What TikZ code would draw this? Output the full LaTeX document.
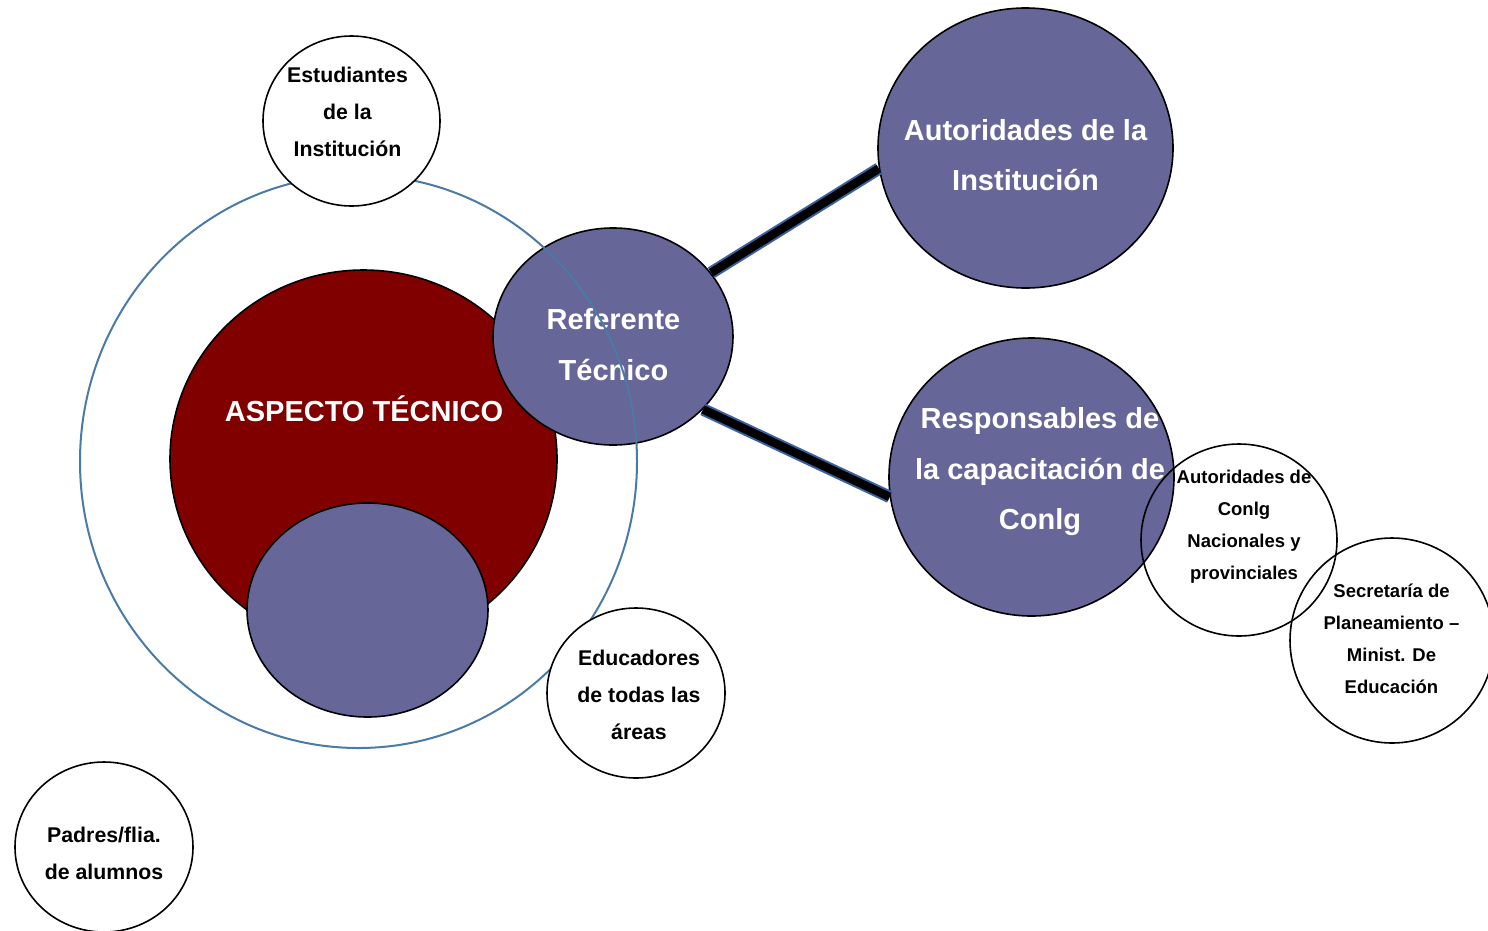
\documentclass[tikz,border=0pt]{standalone}
\usepackage{fontspec}
\setmainfont{Liberation Sans}
\usetikzlibrary{shapes.geometric}
\definecolor{lav}{HTML}{666699}
\definecolor{maroon}{HTML}{800000}
\definecolor{ringblue}{HTML}{4A7AA6}
\definecolor{linkblue}{HTML}{3A62A0}
\tikzset{
  circ/.style={ellipse, inner sep=0pt, line width=1.6pt},
  white circ/.style={circ, draw=black, fill=white},
  lav circ/.style={circ, draw=black, fill=lav},
  open circ/.style={circ, draw=black},
  big txt/.style={text=white, font=\bfseries\fontsize{29}{50.5}\selectfont, align=center, inner sep=0pt},
  mid txt/.style={text=black, font=\bfseries\fontsize{21.3}{37}\selectfont, align=center, inner sep=0pt},
  small txt/.style={text=black, font=\bfseries\fontsize{18.5}{32}\selectfont, align=center, inner sep=0pt},
  link/.style={line width=12.5pt, draw=linkblue, postaction={draw=black, line width=8.5pt}}
}
\begin{document}
\begin{tikzpicture}[x=1pt, y=-1pt]
\useasboundingbox (0,0) rectangle (1488,930);
% core circles
\node[circ, draw=black, fill=maroon, minimum width=387pt, minimum height=378pt] (asp) at (363.5,459) {};
\node[lav circ, minimum width=241pt, minimum height=214pt] (low) at (367.5,610) {};
\node[lav circ, minimum width=240pt, minimum height=217pt] (ref) at (613,336.5) {};
\node[big txt] (aspT) at (364,409) {ASPECTO TÉCNICO};
\node[big txt] (refT) at (613.5,344.5) {Referente\\Técnico};
% outer ring
\node[circ, draw=ringblue, line width=2pt, minimum width=557pt, minimum height=573pt] (outer) at (358.5,461.5) {};
% white circles
\node[white circ, minimum width=177pt, minimum height=170pt] (est) at (351.5,121) {};
\node[white circ, minimum width=178pt, minimum height=170pt] (edu) at (636,693) {};
\node[white circ, minimum width=178pt, minimum height=170pt] (pad) at (104,847) {};
% right circles
\node[lav circ, minimum width=295pt, minimum height=280pt] (aut) at (1025.5,148) {};
\node[lav circ, minimum width=285pt, minimum height=278pt] (resp) at (1031.5,477) {};
% connectors
\draw[link] (ref.33) -- (aut.188);
\draw[link] (ref.-39) -- (resp.188);
% texts
\node[big txt] (autT) at (1025.5,155) {Autoridades de la\\Institución};
\node[big txt] (respT) at (1040,472) {Responsables de\\la capacitación de\\Conlg};
\node[mid txt] (estT) at (347.5,112) {Estudiantes\\de la\\Institución};
\node[mid txt] (eduT) at (639,695) {Educadores\\de todas las\\áreas};
\node[mid txt] (padT) at (104,853) {Padres/flia.\\de alumnos};
% open circles
\node[open circ, minimum width=196pt, minimum height=192pt] (con) at (1239,540) {};
\node[open circ, minimum width=204pt, minimum height=205pt] (sec) at (1392,640.5) {};
\node[small txt] (conT) at (1244,527) {Autoridades de\\Conlg\\Nacionales y\\provinciales};
\node[small txt] (secT) at (1391.5,639) {Secretaría de\\Planeamiento –\\Minist. De\\Educación};
\end{tikzpicture}
\end{document}
